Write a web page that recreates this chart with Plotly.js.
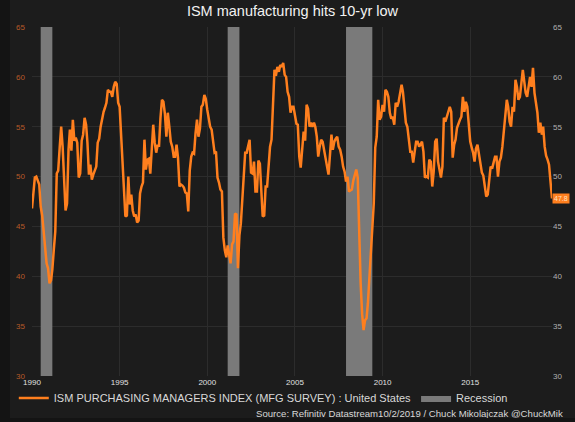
<!DOCTYPE html>
<html>
<head>
<meta charset="utf-8">
<script src="https://cdn.plot.ly/plotly-3.0.1.min.js"></script>
<style>
html,body{margin:0;padding:0;background:#141414;width:575px;height:422px;overflow:hidden;}
#chart{position:absolute;left:10px;top:0;width:565px;height:418px;}
</style>
</head>
<body>
<div id="chart"></div>
<script>
// Monthly ISM manufacturing PMI, Jan 1990 .. Sep 2019
var startYear = 1990;
var ismValues = [
46.8,48.5,49.9,50.0,49.5,49.2,47.0,46.1,44.5,43.2,41.3,40.8,
39.3,39.6,40.7,42.7,44.5,50.3,50.6,52.9,55.0,53.0,49.5,46.6,
47.3,52.7,54.7,52.6,55.7,53.6,53.9,53.4,49.9,50.3,53.6,54.2,
55.9,55.2,53.4,50.2,51.2,49.7,50.2,50.7,51.0,53.4,53.8,55.0,
56.0,56.5,56.9,57.4,58.7,58.5,58.5,58.0,59.0,59.5,59.3,57.4,
57.0,54.0,52.1,48.4,46.0,46.1,50.0,47.2,48.2,46.6,46.0,46.2,
45.4,45.6,48.3,49.0,49.4,53.7,50.7,51.7,51.8,50.3,52.4,55.2,
53.4,52.4,53.1,53.1,55.9,57.7,57.5,56.3,54.0,56.4,55.0,53.5,
53.0,52.0,52.0,53.2,51.9,49.0,49.2,49.1,48.9,48.4,48.3,46.5,
50.6,52.0,52.4,52.3,54.3,55.7,54.0,54.8,57.0,57.2,58.2,57.8,
56.7,55.8,55.0,54.7,53.2,52.4,52.5,49.9,49.4,48.7,48.5,43.9,
42.6,41.9,43.1,42.3,41.3,43.2,43.5,46.3,46.2,40.8,44.1,45.3,
47.5,50.7,52.4,52.4,53.1,53.7,50.4,50.3,51.5,48.5,48.5,51.6,
51.3,48.8,46.0,46.1,49.0,49.0,51.0,53.0,53.7,57.0,60.7,60.1,
61.0,60.5,61.2,61.0,61.4,60.2,60.0,58.5,58.0,56.4,57.0,57.0,
56.0,55.3,55.2,52.0,50.9,52.7,54.5,53.6,57.2,56.8,55.0,55.4,
55.0,55.4,55.0,54.0,52.0,53.0,53.7,53.5,52.5,51.5,51.0,50.2,
52.0,54.2,52.7,53.5,53.8,54.0,53.0,52.7,52.0,51.0,50.5,49.5,
50.0,48.5,48.6,48.7,49.6,50.2,50.7,49.9,44.0,39.3,36.2,34.6,
35.6,35.8,37.3,40.1,42.8,44.8,47.3,52.9,54.0,57.7,55.7,56.0,
57.2,56.5,58.7,58.5,58.0,56.4,55.8,56.0,55.2,57.4,57.0,57.5,
58.5,59.2,58.5,57.0,55.4,55.0,53.7,52.5,52.5,51.4,52.5,53.5,
53.5,53.0,53.2,53.5,52.5,49.9,50.0,49.9,51.7,51.5,49.0,50.5,
53.5,53.8,51.5,50.5,49.9,51.0,55.9,55.5,56.0,56.4,57.0,56.5,
51.9,53.2,53.7,54.9,55.4,55.7,56.0,58.0,56.5,57.5,57.0,55.0,
53.5,52.9,52.4,51.5,52.8,53.2,52.2,51.1,50.4,50.1,48.7,48.0,
48.2,49.5,51.0,50.8,51.3,52.0,52.0,50.0,51.5,51.9,53.0,54.5,
56.0,57.7,57.0,55.5,55.0,57.0,56.5,59.7,59.0,57.7,58.0,59.5,
60.7,59.5,58.4,58.0,59.0,60.0,59.0,60.9,58.4,57.5,56.4,54.4,
55.4,54.2,55.0,53.0,52.1,51.7,51.2,49.5,47.8
];
var recessionStart = ["1990-07-01","2001-03-01","2007-12-01"];
var recessionEnd   = ["1991-03-01","2001-11-01","2009-06-01"];
var yMin = 30, yMax = 65;
var ismName = "ISM PURCHASING MANAGERS INDEX (MFG SURVEY) : United States";
var recName = "Recession";
var sourceText = "Source: Refinitiv Datastream10/2/2019 / Chuck Mikolajczak @ChuckMik";
var titleText = "ISM manufacturing hits 10-yr low";

function pad(n){return n<10?"0"+n:""+n;}
var dates = ismValues.map(function(v,i){
  var y = startYear + Math.floor(i/12), m = (i%12)+1;
  return y + "-" + pad(m) + "-01";
});

var traces = [];
recessionStart.forEach(function(s,i){
  var e = recessionEnd[i];
  traces.push({
    type:"scatter", mode:"lines",
    x:[s,s,e,e,s], y:[yMin,yMax,yMax,yMin,yMin],
    fill:"toself", fillcolor:"#7a7a7a",
    line:{width:0,color:"#7a7a7a"},
    name:recName, legendgroup:"rec", showlegend:i===0,
    hoverinfo:"skip", yaxis:"y"
  });
});
traces.push({
  type:"scatter", mode:"lines", x:dates, y:ismValues,
  line:{color:"#ff7f1e", width:2.5},
  name:ismName, yaxis:"y2", legendrank:1
});
traces[0].legendrank = 2;

var lastVal = ismValues[ismValues.length-1];
var gridC = "#2c2c2c";
var layout = {
  width:565, height:418,
  paper_bgcolor:"#1c1c1c", plot_bgcolor:"#1c1c1c",
  margin:{l:22, r:23, t:27, b:42, autoexpand:false},
  font:{family:"Liberation Sans, Arial, sans-serif", color:"#dddddd"},
  title:{text:titleText, x:0.5, xanchor:"center", y:0.985, yanchor:"top",
         font:{size:14.5, color:"#f2f2f2"}},
  showlegend:true,
  legend:{orientation:"h", x:-0.035, xanchor:"left", y:-0.063, yanchor:"middle",
          font:{size:11, color:"#d8d8d8"}, bgcolor:"rgba(0,0,0,0)",
          traceorder:"normal", itemwidth:30, tracegroupgap:0},
  xaxis:{type:"date", range:[dates[0], dates[dates.length-1]],
         tick0:"1990-01-01", dtick:"M60", tickformat:"%Y",
         showgrid:true, gridcolor:gridC, gridwidth:1, zeroline:false,
         showline:false, ticks:"", tickfont:{size:8, color:"#e0e0e0"}},
  yaxis:{range:[yMin,yMax], dtick:5, side:"left",
         showgrid:true, gridcolor:gridC, zeroline:false, ticks:"",
         ticklabelstandoff:6,
         tickfont:{size:8, color:"#b85a28"}},
  yaxis2:{range:[yMin,yMax], dtick:5, side:"right", overlaying:"y",
          showgrid:false, zeroline:false, ticks:"",
          tickfont:{size:8, color:"#b0b0b0"}},
  annotations:[
    {xref:"paper", yref:"y2", x:1.0, y:lastVal, xanchor:"left", yanchor:"middle",
     text:lastVal.toFixed(1), showarrow:false, bgcolor:"#ff7f1e",
     font:{size:7, color:"#ffe0c0"}, borderpad:1},
    {xref:"paper", yref:"paper", x:1.025, y:-0.107, xanchor:"right", yanchor:"middle",
     text:sourceText, showarrow:false, font:{size:9.6, color:"#d8d8d8"}}
  ]
};
Plotly.newPlot("chart", traces, layout, {displayModeBar:false, staticPlot:true});
</script>
</body>
</html>
